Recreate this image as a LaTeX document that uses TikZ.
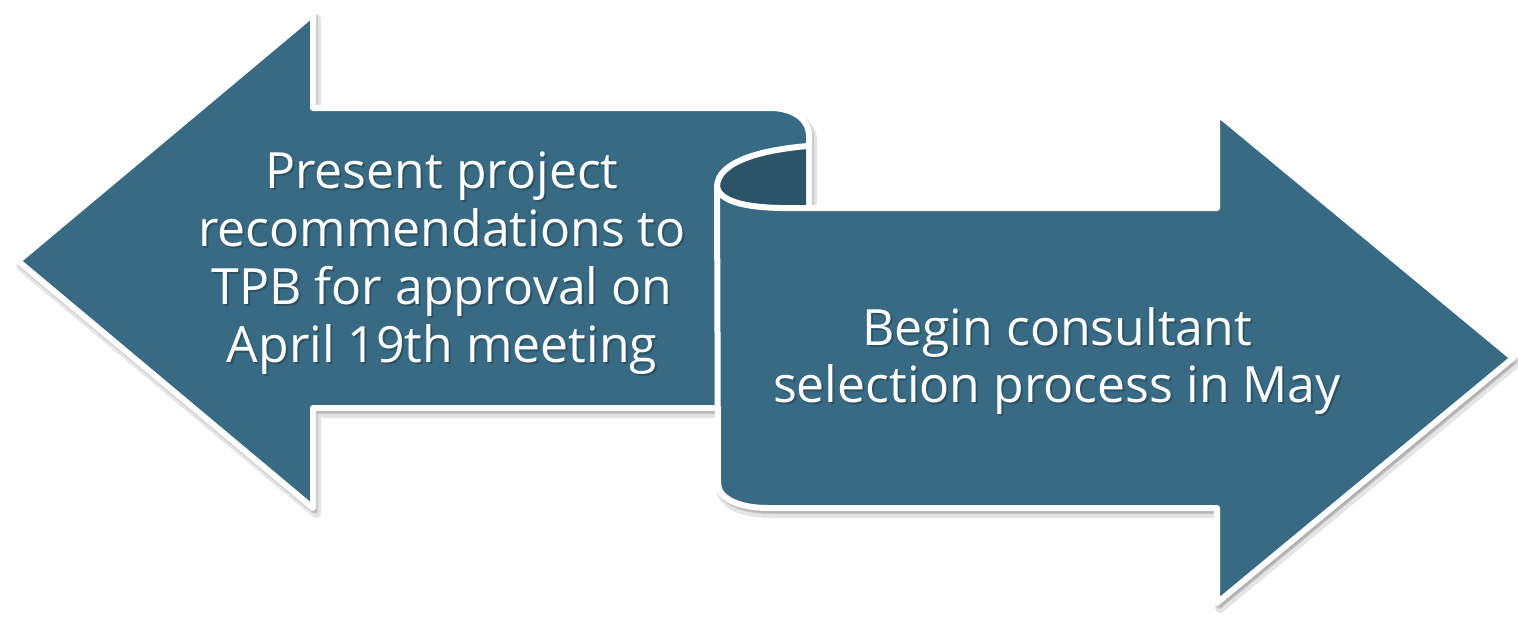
\documentclass[tikz,border=0pt]{standalone}
\usepackage{fontspec}
\setmainfont{Open Sans}
\definecolor{mainfill}{RGB}{56,107,131}
\definecolor{darkfill}{RGB}{44,84,104}
\begin{document}
\begin{tikzpicture}[x=1pt,y=-1pt,
  sheet/.style={fill=mainfill, draw=white, line width=6pt, line join=round},
  shadowA/.style={fill=black, draw=black, opacity=0.10, line width=10pt, line join=round},
  shadowB/.style={fill=black, draw=black, opacity=0.12, line width=6pt, line join=round},
  innerroll/.style={fill=darkfill},
  rollline/.style={draw=white, line width=6pt, line cap=round},
  txt/.style={text=white, font=\fontsize{50}{58}\selectfont, anchor=base, inner sep=0pt},
  txtsh/.style={text=black, opacity=0.22, font=\fontsize{50}{58}\selectfont, anchor=base, inner sep=0pt}]
\useasboundingbox (0,0) rectangle (1518,616);
\def\lsheet{(18,261) -- (313,14) -- (313,108) -- (770,108) .. controls (793,108) and (809,119) .. (809,136) -- (809,216) -- (745,216) -- (745,408) -- (313,408) -- (313,508) -- cycle}
\def\rsheet{(717,187) .. controls (720,200) and (740,207) .. (780,208) -- (1217,208) -- (1217,113) -- (1513,358) -- (1217,603) -- (1217,508) -- (768,508) .. controls (738,508) and (718,498) .. (718,483) -- cycle}
% left arrow
\path[shadowA, shift={(3,5)}] \lsheet;
\path[shadowB, shift={(2,3)}] \lsheet;
\path[sheet] \lsheet;
% inner of the roll
\path[innerroll] (806,146) .. controls (760,150) and (717,162) .. (717,187) .. controls (720,200) and (740,207) .. (780,208) -- (806,208) -- cycle;
\path[rollline] (808,146) .. controls (760,150) and (717,162) .. (717,187);
% right arrow
\path[shadowA, shift={(3,5)}] \rsheet;
\path[shadowB, shift={(2,3)}] \rsheet;
\path[sheet] \rsheet;
% texts
\foreach \n/\y/\t in {l1/188/{Present project}, l2/246/{recommendations to}, l3/304/{TPB for approval on}, l4/362/{April 19th meeting}}{
  \node[txtsh] at (444,\y+2.5) {\t};
  \node[txt] (\n) at (442,\y) {\t};
}
\foreach \n/\y/\t in {r1/345/{Begin consultant}, r2/402/{selection process in May}}{
  \node[txtsh] at (1059,\y+2.5) {\t};
  \node[txt] (\n) at (1057,\y) {\t};
}
\end{tikzpicture}
\end{document}
